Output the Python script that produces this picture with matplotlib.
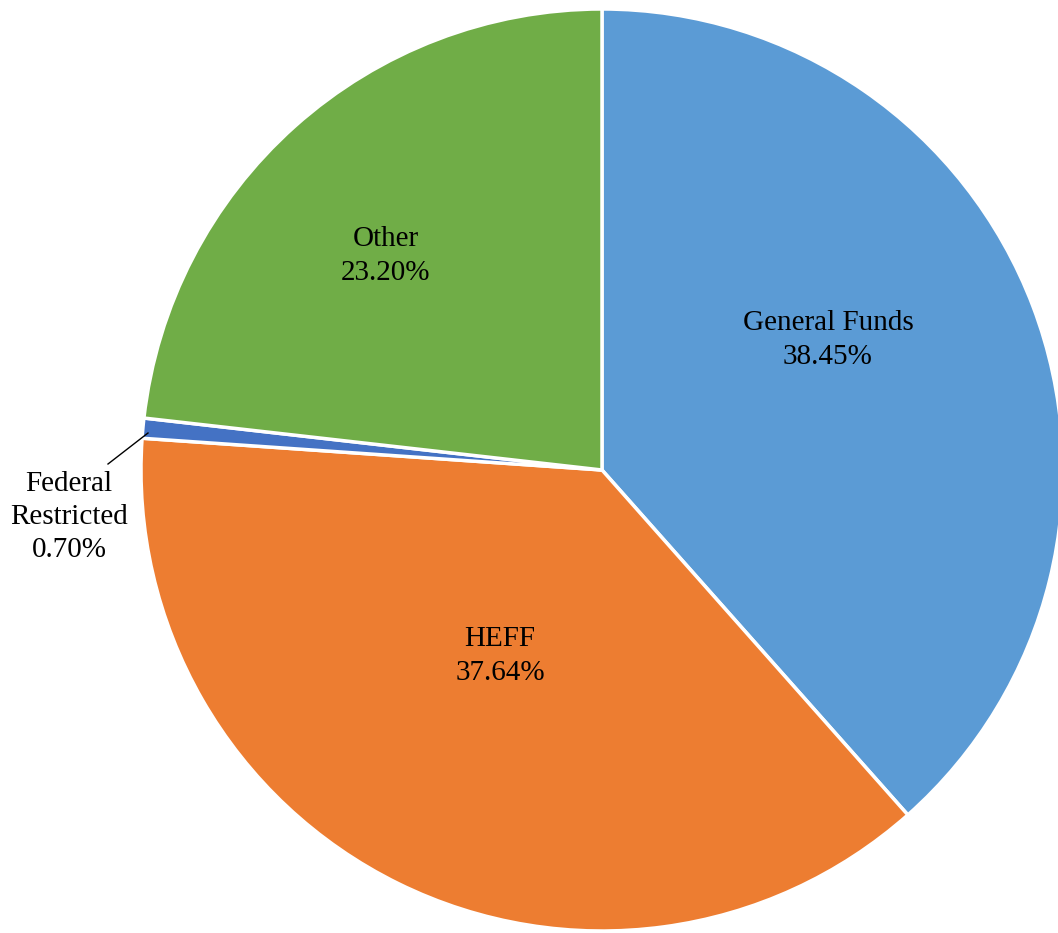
import matplotlib
matplotlib.use("Agg")
import matplotlib.pyplot as plt

categories = ["General Funds", "HEFF", "Federal\nRestricted", "Other"]
values = [38.45, 37.64, 0.70, 23.20]
colors = ["#5B9BD5", "#ED7D31", "#4472C4", "#70AD47"]

W, H = 1058, 933
fig = plt.figure(figsize=(W / 100, H / 100), dpi=100)
ax = fig.add_axes([0, 0, 1, 1])
plt.rcParams['font.family'] = ['Liberation Serif', 'DejaVu Serif']

cx, cy, R = 602, 470, 461
wedges, _ = ax.pie(values, colors=colors, startangle=90, counterclock=False,
                   wedgeprops=dict(edgecolor="white", linewidth=2.5))

ax.set_xlim(-cx / R, (W - cx) / R)
ax.set_ylim(-(H - cy) / R, cy / R)
ax.set_aspect("auto")
ax.axis("off")

def px(x, y):
    return ((x - cx) / R, (cy - y) / R)

fs = 21
ls = 1.37
label_pos = {
    0: (828, 340),
    1: (500, 656),
    3: (386, 256),
}
for i, (x, y) in label_pos.items():
    tx, ty = px(x, y)
    ax.text(tx, ty, f"{categories[i]}\n{values[i]:.2f}%", ha="center", va="center",
            fontsize=fs, linespacing=ls)

# Federal Restricted label with leader line
tx, ty = px(69, 517)
ax.text(tx, ty, f"{categories[2]}\n{values[2]:.2f}%", ha="center", va="center",
        fontsize=fs, linespacing=ls)
x0, y0 = px(108, 464)
x1, y1 = px(148, 433)
ax.plot([x0, x1], [y0, y1], color="black", linewidth=1)

fig.savefig("out.png", dpi=100)
